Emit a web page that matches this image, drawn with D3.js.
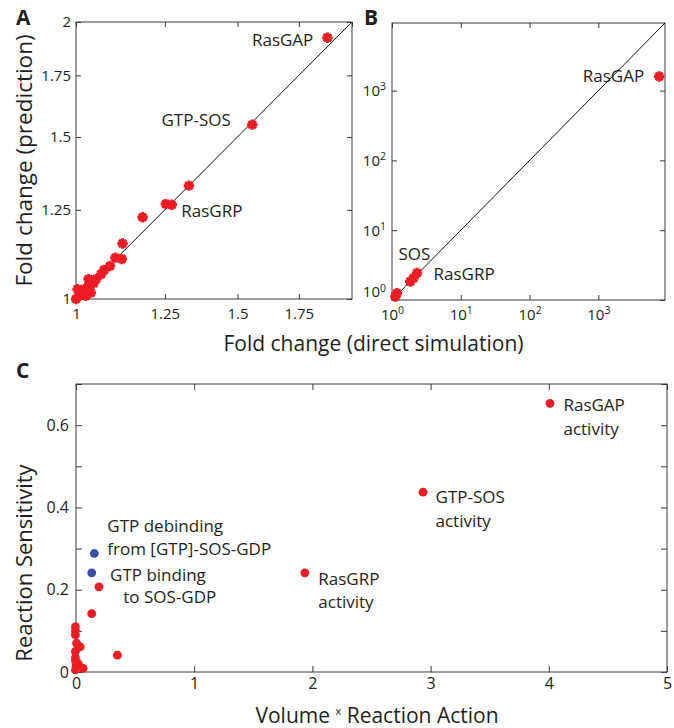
<!DOCTYPE html>
<html><head><meta charset="utf-8">
<script src="https://cdn.jsdelivr.net/npm/d3@7"></script>
<style>
body{margin:0;background:#fff;}
text{font-family:"Open Sans",sans-serif;fill:#231f20;}
</style>
</head><body>
<svg id="chart" width="674" height="728"></svg>
<script>
// ---------- Panel A data (fold change) ----------
const aSim  = [1.880,1.557,1.328,1.253,1.272,1.182,1.124,1.104,1.122,1.089,1.073,1.065,1.052,1.032,1.034,1.021,1.004,1.008,1.025,1.038,1.000,1.015,1.045];
const aPred = [1.923,1.547,1.328,1.268,1.266,1.227,1.149,1.109,1.105,1.086,1.075,1.064,1.051,1.051,1.038,1.025,1.025,1.008,1.008,1.016,1.000,1.012,1.040];
const aTicks = [1,1.25,1.5,1.75,2];
const aXTickLabels = ["1","1.25","1.5","1.75"];
const aYTickLabels = ["1","1.25","1.5","1.75","2"];
const aNames = ["RasGAP","GTP-SOS","RasGRP"];
const aNameIdx = [0,1,4];

// ---------- Panel B data (fold change, log) ----------
const bSim  = [7656,1.117,1.18,1.84,2.06,2.31];
const bPred = [1596,1.116,1.25,1.84,2.06,2.44];
const bTicks = [1,10,100,1000];
const bNames = ["RasGAP","SOS","RasGRP"];
const bNameIdx = [0,2,5];

// ---------- Panel C data ----------
const cActionRed = [4.01,2.936,1.936,0.194,0.133,0.35,-0.005,-0.005,-0.005,0.005,0.035,-0.005,-0.005,-0.005,0.02,0.06,-0.005,0.0];
const cSensRed   = [0.653,0.437,0.241,0.207,0.142,0.041,0.110,0.100,0.090,0.070,0.061,0.050,0.035,0.028,0.020,0.009,0.005,0.015];
const cActionBlue = [0.155,0.133];
const cSensBlue   = [0.288,0.241];
const cXTicks = [0,1,2,3,4,5];
const cYTicks = [0,0.1,0.2,0.3,0.4,0.5,0.6,0.7];
const cNames = [["RasGAP","activity"],["GTP-SOS","activity"],["RasGRP","activity"]];
const cBlueNames = [["GTP debinding","from [GTP]-SOS-GDP"],["GTP binding","to SOS-GDP"]];

// ---------- styles ----------
const RED = "#ed1c24", BLUE = "#3a4fa3", AX = "#3a3a3a";

const svg = d3.select("#chart");

function starPath(r){
  const p = d3.path();
  for(let k=0;k<4;k++){
    const a = k*Math.PI/4, c=Math.cos(a)*r, s=Math.sin(a)*r;
    p.moveTo(-c,-s); p.lineTo(c,s);
  }
  return p.toString();
}

function frame(g, x, y){
  const [x0,x1] = x.range(), [y0,y1] = y.range();
  g.append("rect").attr("x",x0).attr("y",y1).attr("width",x1-x0).attr("height",y0-y1)
    .attr("fill","none").attr("stroke",AX).attr("stroke-width",1);
}

function styleAxis(g, fs){
  g.select(".domain").remove();
  g.selectAll(".tick line").attr("stroke",AX);
  g.selectAll(".tick text").attr("fill","#231f20").style("font-family",'"Open Sans",sans-serif').style("font-size",fs+"px");
}

// ================= Panel A =================
const xA = d3.scaleLog().domain([1,2]).range([76,352]);
const yA = d3.scaleLog().domain([1,2]).range([299,22]);
const gA = svg.append("g");
frame(gA,xA,yA);
gA.append("g").attr("transform",`translate(0,${yA.range()[0]})`)
  .call(d3.axisBottom(xA).tickValues(aTicks.slice(0,4)).tickFormat((d,i)=>aXTickLabels[i]).tickSize(-5).tickPadding(9))
  .call(g=>styleAxis(g,15));
gA.append("g").attr("transform",`translate(0,${yA.range()[1]})`)
  .call(d3.axisTop(xA).tickValues(aTicks).tickFormat("").tickSize(-5)).call(g=>styleAxis(g,15));
gA.append("g").attr("transform",`translate(${xA.range()[0]},0)`)
  .call(d3.axisLeft(yA).tickValues(aTicks).tickFormat((d,i)=>aYTickLabels[i]).tickSize(-5).tickPadding(5))
  .call(g=>styleAxis(g,15));
gA.append("g").attr("transform",`translate(${xA.range()[1]},0)`)
  .call(d3.axisRight(yA).tickValues(aTicks).tickFormat("").tickSize(-5)).call(g=>styleAxis(g,15));
gA.append("line").attr("x1",xA(1)).attr("y1",yA(1)).attr("x2",xA(2)).attr("y2",yA(2))
  .attr("stroke","#111").attr("stroke-width",1);
const star = starPath(5.2);
const aPts = aSim.map((v,i)=>[v,aPred[i]]);
gA.append("g").selectAll("g").data(aPts).join("g")
  .attr("transform",d=>`translate(${xA(d[0])},${yA(d[1])})`)
  .each(function(){
    const s=d3.select(this);
    s.append("path").attr("d",star).attr("stroke",RED).attr("stroke-width",3).attr("fill","none");
    s.append("circle").attr("r",3.2).attr("fill",RED);
  });
// annotation offsets (px) relative to the labelled point
const aOff = [{dx:-14,dy:8,a:"end"},{dx:-21.5,dy:1.5,a:"end"},{dx:9.5,dy:12,a:"start"}];
aNames.forEach((n,k)=>{
  const p = aPts[aNameIdx[k]];
  gA.append("text").attr("x",xA(p[0])+aOff[k].dx).attr("y",yA(p[1])+aOff[k].dy)
    .attr("text-anchor",aOff[k].a).style("font-size","17px").text(n);
});

// ================= Panel B =================
const xB = d3.scaleLog().domain([1,9300]).range([392,665]);
const yB = d3.scaleLog().domain([1,9300]).range([300,23]);
const gB = svg.append("g");
frame(gB,xB,yB);
function supLabels(g){
  g.selectAll(".tick text").each(function(d){
    const t = d3.select(this);
    t.text(null);
    t.append("tspan").text("10");
    t.append("tspan").attr("dy","-0.55em").style("font-size","10.5px").text(Math.round(Math.log10(d)));
  });
}
gB.append("g").attr("transform",`translate(0,${yB.range()[0]})`)
  .call(d3.axisBottom(xB).tickValues(bTicks).tickFormat(d=>String(d)).tickSize(-5).tickPadding(9))
  .call(g=>styleAxis(g,15)).call(supLabels);
gB.append("g").attr("transform",`translate(0,${yB.range()[1]})`)
  .call(d3.axisTop(xB).tickValues(bTicks).tickFormat("").tickSize(-5)).call(g=>styleAxis(g,15));
gB.append("g").attr("transform",`translate(${xB.range()[0]},0)`)
  .call(d3.axisLeft(yB).tickValues(bTicks).tickFormat(d=>String(d)).tickSize(-5).tickPadding(6))
  .call(g=>styleAxis(g,15)).call(supLabels)
  .call(g=>g.selectAll(".tick text").filter(d=>d===1).attr("y",-8));
gB.append("g").attr("transform",`translate(${xB.range()[1]},0)`)
  .call(d3.axisRight(yB).tickValues(bTicks).tickFormat("").tickSize(-5)).call(g=>styleAxis(g,15));
gB.append("line").attr("x1",xB(1)).attr("y1",yB(1)).attr("x2",xB(9300)).attr("y2",yB(9300))
  .attr("stroke","#111").attr("stroke-width",1);
const bPts = bSim.map((v,i)=>[v,bPred[i]]);
gB.append("g").selectAll("g").data(bPts).join("g")
  .attr("transform",d=>`translate(${xB(d[0])},${yB(d[1])})`)
  .each(function(){
    const s=d3.select(this);
    s.append("path").attr("d",star).attr("stroke",RED).attr("stroke-width",3).attr("fill","none");
    s.append("circle").attr("r",3.2).attr("fill",RED);
  });
const bOff = [{dx:-15,dy:6,a:"end"},{dx:1.5,dy:-33,a:"start"},{dx:16.5,dy:7.5,a:"start"}];
bNames.forEach((n,k)=>{
  const p = bPts[bNameIdx[k]];
  gB.append("text").attr("x",xB(p[0])+bOff[k].dx).attr("y",yB(p[1])+bOff[k].dy)
    .attr("text-anchor",bOff[k].a).style("font-size","17px").text(n);
});

// shared x-title for A and B
svg.append("text").attr("x",373.5).attr("y",351).attr("text-anchor","middle")
  .style("font-size","21px").text("Fold change (direct simulation)");
svg.append("text").attr("transform",`translate(32,${(yA.range()[0]+yA.range()[1])/2}) rotate(-90)`)
  .attr("text-anchor","middle").style("font-size","22.5px").text("Fold change (prediction)");

// panel letters
svg.append("text").attr("x",16).attr("y",25).style("font-size","21px").style("font-weight","bold").text("A");
svg.append("text").attr("x",364).attr("y",25).style("font-size","21px").style("font-weight","bold").text("B");
svg.append("text").attr("x",16).attr("y",378).style("font-size","21px").style("font-weight","bold").text("C");

// ================= Panel C =================
const xC = d3.scaleLinear().domain([0,5]).range([76,667]);
const yC = d3.scaleLinear().domain([0,0.7]).range([672,384]);
const gC = svg.append("g");
frame(gC,xC,yC);
const cFmt = d=>{const k=Math.round(d*10); return k%2===0 ? (k===0?"0":d.toFixed(1)) : "";};
gC.append("g").attr("transform",`translate(0,${yC.range()[0]})`)
  .call(d3.axisBottom(xC).tickValues(cXTicks).tickFormat(d3.format("d")).tickSize(-6).tickPadding(6))
  .call(g=>styleAxis(g,16));
gC.append("g").attr("transform",`translate(0,${yC.range()[1]})`)
  .call(d3.axisTop(xC).tickValues(cXTicks).tickFormat("").tickSize(-6)).call(g=>styleAxis(g,16));
gC.append("g").attr("transform",`translate(${xC.range()[0]},0)`)
  .call(d3.axisLeft(yC).tickValues(cYTicks).tickFormat(cFmt).tickSize(-6).tickPadding(7))
  .call(g=>styleAxis(g,16));
gC.append("g").attr("transform",`translate(${xC.range()[1]},0)`)
  .call(d3.axisRight(yC).tickValues(cYTicks).tickFormat("").tickSize(-6)).call(g=>styleAxis(g,16));

const cRed = cActionRed.map((v,i)=>[v,cSensRed[i]]);
const cBlue = cActionBlue.map((v,i)=>[v,cSensBlue[i]]);
gC.append("g").selectAll("circle").data(cRed).join("circle")
  .attr("cx",d=>xC(d[0])).attr("cy",d=>yC(d[1])).attr("r",4.4).attr("fill",RED);
gC.append("g").selectAll("circle").data(cBlue).join("circle")
  .attr("cx",d=>xC(d[0])).attr("cy",d=>yC(d[1])).attr("r",4.4).attr("fill",BLUE);

const cOff = [{dx:13.5,dy:8},{dx:12.5,dy:11},{dx:13.5,dy:12.3}];
cNames.forEach((lines,k)=>{
  const p = cRed[k];
  lines.forEach((l,j)=>{
    gC.append("text").attr("x",xC(p[0])+cOff[k].dx).attr("y",yC(p[1])+cOff[k].dy+j*23.3)
      .style("font-size","17px").text(l);
  });
});
const cbOff = [[{dx:13,dy:-21.6},{dx:13,dy:1}],[{dx:18.3,dy:8},{dx:31.6,dy:30.5}]];
cBlueNames.forEach((lines,k)=>{
  const p = cBlue[k];
  lines.forEach((l,j)=>{
    gC.append("text").attr("x",xC(p[0])+cbOff[k][j].dx).attr("y",yC(p[1])+cbOff[k][j].dy)
      .style("font-size","17px").text(l);
  });
});

// C titles
const xt = svg.append("text").attr("x",377).attr("y",723).attr("text-anchor","middle").style("font-size","21px");
xt.append("tspan").text("Volume ");
xt.append("tspan").attr("dy",-8).style("font-size","11px").text("x");
xt.append("tspan").attr("dy",8).text(" Reaction Action");
svg.append("text").attr("transform",`translate(32,563) rotate(-90)`)
  .attr("text-anchor","middle").style("font-size","22px").text("Reaction Sensitivity");
</script>
</body></html>
